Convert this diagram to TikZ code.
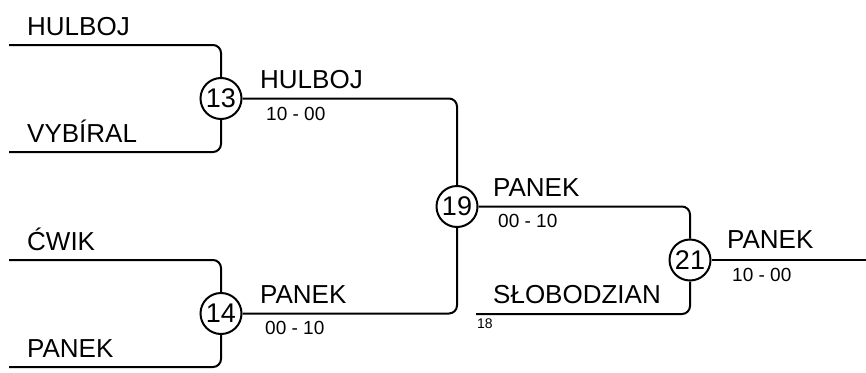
\documentclass[tikz,border=0pt]{standalone}
\usepackage{fontspec}
\setmainfont{Liberation Sans}
\tikzset{
  conn/.style={line width=2pt, rounded corners=8pt},
  mcircle/.style={circle, draw, line width=2pt, minimum size=41pt, inner sep=0pt, fill=white, font=\fontsize{27}{27}\selectfont},
  pname/.style={anchor=base west, inner sep=0pt, font=\fontsize{26}{26}\selectfont},
  pscore/.style={anchor=base west, inner sep=0pt, font=\fontsize{19}{19}\selectfont},
  pseed/.style={anchor=base west, inner sep=0pt, font=\fontsize{14}{14}\selectfont}
}
\begin{document}
\begin{tikzpicture}[x=1pt,y=-1pt]
\useasboundingbox (0,0) rectangle (866,372);
% match circles
\node[mcircle] (c13) at (221,98.5) {13};
\node[mcircle] (c14) at (221,313.5) {14};
\node[mcircle] (c19) at (457,206.5) {19};
\node[mcircle] (c21) at (690,260) {21};
% free ends
\coordinate (s1) at (9,45);
\coordinate (s2) at (9,152);
\coordinate (s3) at (9,260);
\coordinate (s4) at (9,367);
\coordinate (s5) at (476,314);
\coordinate (fin) at (866,260);
% connectors
\draw[conn] (s1) -| (c13.north);
\draw[conn] (s2) -| (c13.south);
\draw[conn] (s3) -| (c14.north);
\draw[conn] (s4) -| (c14.south);
\draw[conn] (c13) -| (c19.north);
\draw[conn] (c14) -| (c19.south);
\draw[conn] (c19) -| (c21.north);
\draw[conn] (s5) -| (c21.south);
\draw[conn] (c21) -- (fin);
% names
\node[pname] (n1) at (27,35) {HULBOJ};
\node[pname] (n2) at (27,142) {VYBÍRAL};
\node[pname] (n3) at (27,250) {ĆWIK};
\node[pname] (n4) at (27,357) {PANEK};
\node[pname] (n5) at (260,88) {HULBOJ};
\node[pname] (n6) at (260,303) {PANEK};
\node[pname] (n7) at (493,196) {PANEK};
\node[pname] (n8) at (493,303) {SŁOBODZIAN};
\node[pname] (n9) at (727,248) {PANEK};
% scores
\node[pscore] (sc1) at (266,120) {10 - 00};
\node[pscore] (sc2) at (265,334) {00 - 10};
\node[pscore] (sc3) at (498,227) {00 - 10};
\node[pscore] (sc4) at (732,281) {10 - 00};
\node[pseed] (sd) at (477,328) {18};
\end{tikzpicture}
\end{document}
